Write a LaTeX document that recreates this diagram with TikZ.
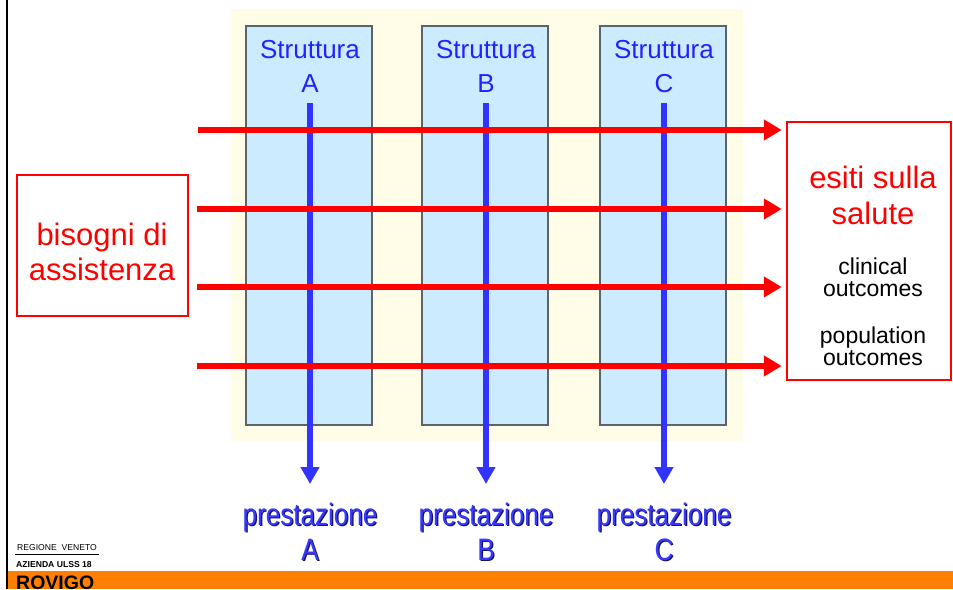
\documentclass[tikz,border=0pt]{standalone}
\usepackage{fontspec}
\setmainfont{Liberation Sans}
\usetikzlibrary{arrows.meta}
\definecolor{bgyellow}{HTML}{FFFDE8}
\definecolor{boxblue}{HTML}{CCEBFF}
\definecolor{boxedge}{HTML}{5A646A}
\definecolor{arrblue}{HTML}{3333FF}
\definecolor{txtblue}{HTML}{2222FF}
\definecolor{prestblue}{HTML}{3838FF}
\definecolor{prestshadow}{HTML}{14145A}
\definecolor{orangebar}{HTML}{FF7F00}
\begin{document}
\begin{tikzpicture}[x=1pt,y=-1pt,
  struct/.style={draw=boxedge, line width=1.5pt, fill=boxblue, minimum width=126pt, minimum height=399pt, inner sep=0pt},
  redbox/.style={draw=red, line width=2.5pt, inner sep=0pt},
  redarrow/.style={draw=red, line width=6pt, -{Triangle[length=18pt,width=20pt]}},
  bluearrow/.style={draw=arrblue, line width=6pt, -{Triangle[length=17pt,width=18pt]}},
  stxt/.style={text=txtblue, anchor=base, inner sep=0pt, font=\fontsize{26}{30}\selectfont},
  bigred/.style={text=red, anchor=base, inner sep=0pt, font=\fontsize{31}{37}\selectfont},
  smallblack/.style={text=black, anchor=base, inner sep=0pt, font=\fontsize{23}{27}\selectfont},
  prest/.style={text=prestblue, anchor=base, inner sep=0pt, font=\fontsize{31}{37}\selectfont},
  prestsh/.style={text=prestshadow, anchor=base, inner sep=0pt, font=\fontsize{31}{37}\selectfont},
  logo/.style={text=black, anchor=base west, inner sep=0pt}
]
\useasboundingbox (0,0) rectangle (953,589);
\clip (0,0) rectangle (953,589);
\fill[white] (0,0) rectangle (953,589);

% background panel
\node[fill=bgyellow, minimum width=512pt, minimum height=432pt, inner sep=0pt] (panel) at (487,225) {};

% structure boxes
\node[struct] (bA) at (309,225.5) {};
\node[struct] (bB) at (485,225.5) {};
\node[struct] (bC) at (663,225.5) {};

\node[stxt] (sA1) at (310,58) {Struttura};
\node[stxt] (sA2) at (310,92) {A};
\node[stxt] (sB1) at (486,58) {Struttura};
\node[stxt] (sB2) at (486,92) {B};
\node[stxt] (sC1) at (664,58) {Struttura};
\node[stxt] (sC2) at (664,92) {C};

% output labels
\newcommand{\prestlabel}[4]{%
  \node[prestsh] (#1s) at (#2+1.3,#3+1.3) {\scalebox{0.84}[1]{#4}};
  \node[prest] (#1) at (#2,#3) {\scalebox{0.84}[1]{#4}};}
\prestlabel{pA1}{310}{525}{prestazione}
\prestlabel{pA2}{310}{560}{A}
\prestlabel{pB1}{486}{525}{prestazione}
\prestlabel{pB2}{486}{560}{B}
\prestlabel{pC1}{664}{525}{prestazione}
\prestlabel{pC2}{664}{560}{C}

% vertical arrows
\coordinate (vA0) at (310,103);
\coordinate (vA1) at (310,484);
\coordinate (vB0) at (486,103);
\coordinate (vB1) at (486,484);
\coordinate (vC0) at (664,103);
\coordinate (vC1) at (664,484);
\draw[bluearrow] (vA0) -- (vA1);
\draw[bluearrow] (vB0) -- (vB1);
\draw[bluearrow] (vC0) -- (vC1);

% left box
\node[redbox, minimum width=171pt, minimum height=141pt] (need) at (102.5,245.5) {};
\node[bigred] (need1) at (102,245) {bisogni di};
\node[bigred] (need2) at (102,280) {assistenza};

% right box
\node[redbox, minimum width=164pt, minimum height=258pt] (esiti) at (869,251) {};
\node[bigred] (es1) at (873,188) {esiti sulla};
\node[bigred] (es2) at (873,224) {salute};
\node[smallblack] (es3) at (873,274) {clinical};
\node[smallblack] (es4) at (873,296) {outcomes};
\node[smallblack] (es5) at (873,343) {population};
\node[smallblack] (es6) at (873,365) {outcomes};

% horizontal arrows
\coordinate (h1) at (198,130);
\coordinate (h2) at (197,209);
\coordinate (h3) at (197,287);
\coordinate (h4) at (197,366);
\draw[redarrow, shorten >=4pt] (h1) -- (esiti.west |- h1);
\draw[redarrow, shorten >=4pt] (h2) -- (esiti.west |- h2);
\draw[redarrow, shorten >=4pt] (h3) -- (esiti.west |- h3);
\draw[redarrow, shorten >=4pt] (h4) -- (esiti.west |- h4);

% footer
\fill[orangebar] (8,571) rectangle (953,589);
\draw[black, line width=2pt] (7,0) -- (7,589);
\node[logo, font=\fontsize{8.6}{10}\selectfont] (reg) at (17,550) {REGIONE\ \ VENETO};
\draw[black, line width=0.7pt] (15,554) -- (99,554);
\node[logo, font=\bfseries\fontsize{8.6}{10}\selectfont] (az) at (16,567) {AZIENDA ULSS 18};
\node[logo, font=\bfseries\fontsize{19.5}{22}\selectfont] (ro) at (16,589) {ROVIGO};
\end{tikzpicture}
\end{document}
